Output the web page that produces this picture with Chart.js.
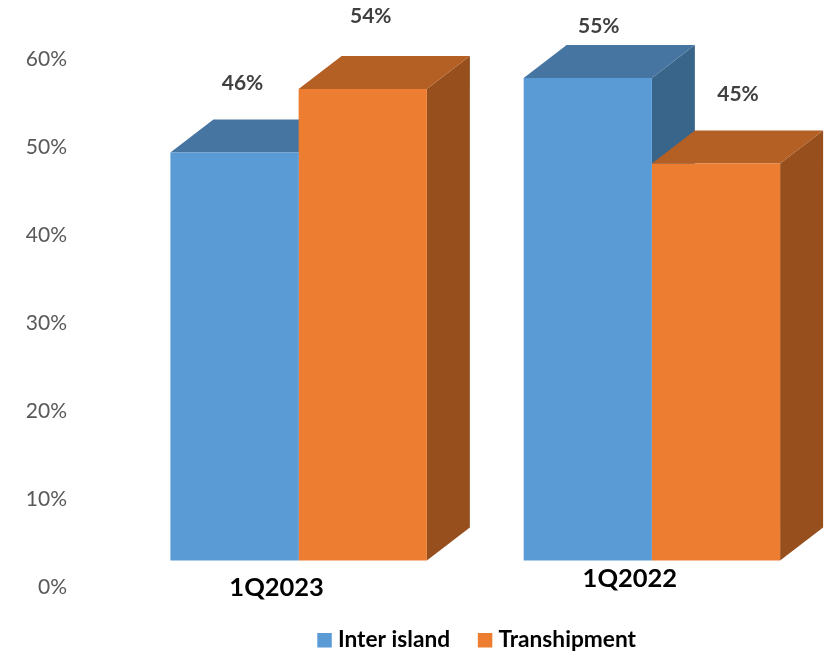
<!DOCTYPE html>
<html><head><meta charset="utf-8">
<script src="https://cdn.jsdelivr.net/npm/chart.js@4"></script>
<style>html,body{margin:0;padding:0;background:#fff}#w{width:830px;height:653px;position:relative}</style>
</head><body><div id="w"><canvas id="c"></canvas></div>
<script>
const categories = ['1Q2023', '1Q2022'];
const interIsland = [46.4, 54.85];
const transhipment = [53.6, 45.15];
const yTicks = [0, 10, 20, 30, 40, 50, 60];

const FONT = 'Lato, Carlito, sans-serif';
const palette = [
  {front:'#5B9BD5', top:'#4675A1', side:'#39658B'},
  {front:'#ED7D31', top:'#B45F23', side:'#974F1D'}
];
const depth = {x:43, y:33};
const labelOffsets = [[[8,-69],[11,-52]], [[8,-73],[22,-69]]];
const categoryLabelOffsets = [[-22,27],[-22,18]];
const legendBoxHeight = 70.5;
const legendShift = {x:4, y:8.5};

const bars3d = {
  id:'bars3d',
  beforeLayout(chart){
    chart.legend.afterFit = function(){ this.height = legendBoxHeight; };
  },
  afterLayout(chart){
    const g = chart.legend;
    g.top += legendShift.y; g.bottom += legendShift.y;
    g.left += legendShift.x; g.right += legendShift.x;
  },
  beforeDatasetsDraw(chart){
    const ctx = chart.ctx;
    const poly = (pts,col)=>{ctx.fillStyle=col;ctx.beginPath();pts.forEach((p,i)=>i?ctx.lineTo(p[0],p[1]):ctx.moveTo(p[0],p[1]));ctx.closePath();ctx.fill();};
    categories.forEach((_,i)=>{
      chart.data.datasets.forEach((d,di)=>{
        const b = chart.getDatasetMeta(di).data[i];
        const l=b.x-b.width/2, r=b.x+b.width/2, t=b.y, base=b.base;
        poly([[r,t],[r+depth.x,t-depth.y],[r+depth.x,base-depth.y],[r,base]],palette[di].side);
        poly([[l,t],[l+depth.x,t-depth.y],[r+depth.x,t-depth.y],[r,t]],palette[di].top);
      });
    });
  },
  afterDatasetsDraw(chart){
    const ctx = chart.ctx;
    ctx.save();
    ctx.textAlign='center';ctx.textBaseline='middle';
    ctx.fillStyle='#404040';ctx.font='bold 21px '+FONT;
    chart.data.datasets.forEach((d,di)=>{
      chart.getDatasetMeta(di).data.forEach((b,i)=>{
        const o=labelOffsets[di][i];
        ctx.fillText(Math.round(d.data[i])+'%',b.x+o[0],b.y+o[1]);
      });
    });
    ctx.fillStyle='#000';ctx.font='bold 25.5px '+FONT;
    categories.forEach((c,i)=>{
      const x=chart.scales.x.getPixelForTick(i)+categoryLabelOffsets[i][0];
      const y=chart.getDatasetMeta(0).data[i].base+categoryLabelOffsets[i][1];
      ctx.fillText(c,x,y);
    });
    ctx.restore();
  }
};

new Chart(document.getElementById('c'),{
  type:'bar',
  data:{labels:categories,datasets:[
    {label:'Inter island',data:interIsland,backgroundColor:palette[0].front,yAxisID:'y2',barPercentage:1,categoryPercentage:0.726,pointStyle:'rect'},
    {label:'Transhipment',data:transhipment,backgroundColor:palette[1].front,yAxisID:'y2',barPercentage:1,categoryPercentage:0.726,pointStyle:'rect'}
  ]},
  options:{
    responsive:true,maintainAspectRatio:false,animation:false,
    layout:{padding:{top:52,left:0,right:1.5,bottom:0}},
    plugins:{
      tooltip:{enabled:false},
      legend:{position:'bottom',fullSize:false,labels:{usePointStyle:true,boxWidth:4,boxHeight:14.5,padding:33,color:'#000',font:{family:FONT,size:22.7,weight:'bold'}}}
    },
    scales:{
      x:{display:false,grid:{display:false}},
      y:{min:0,max:60,position:'left',grid:{display:false},border:{display:false},
        afterFit(s){s.width=122;},
        afterBuildTicks(s){s.ticks=yTicks.map(v=>({value:v}));},
        ticks:{color:'#595959',padding:47,font:{family:FONT,size:21},callback:v=>v+'%'}},
      y2:{display:false,min:-3.05,max:56.95}
    }
  },
  plugins:[bars3d]
});
</script></body></html>
